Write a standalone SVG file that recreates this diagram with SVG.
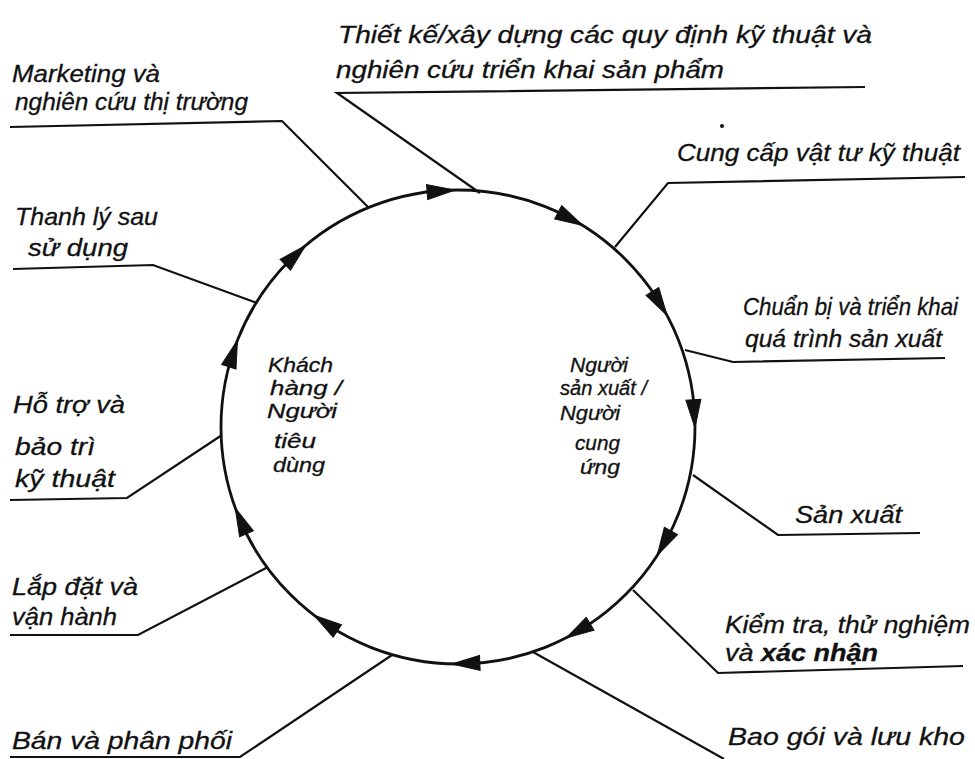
<svg xmlns="http://www.w3.org/2000/svg" xmlns:xlink="http://www.w3.org/1999/xlink" width="975" height="759" viewBox="0 0 975 759">
<style>
.lbl{font-family:"Liberation Sans","DejaVu Sans",sans-serif;font-style:italic;font-size:24px;fill:#111;stroke:#111;stroke-width:0.3}
.in{font-family:"Liberation Sans","DejaVu Sans",sans-serif;font-style:italic;font-size:20px;fill:#111;stroke:#111;stroke-width:0.3}
.ld{fill:none;stroke:#111;stroke-width:2.2;stroke-linejoin:miter}
.ring{fill:none;stroke:#111;stroke-width:2.8}
.ah{fill:#111;stroke:#111;stroke-width:1}
</style>
<defs>
<polygon id="ah" class="ah" points="695,427 685.8,399.5 700.8,398.5"/>
</defs>
<rect width="975" height="759" fill="#fff"/>

<g id="cycle">
<circle class="ring" cx="458" cy="427" r="237"/>
<use xlink:href="#ah" href="#ah" transform="rotate(-90.7 458 427)"/>
<use xlink:href="#ah" href="#ah" transform="rotate(-58.2 458 427)"/>
<use xlink:href="#ah" href="#ah" transform="rotate(-28.1 458 427)"/>
<use xlink:href="#ah" href="#ah" transform="rotate(0.2 458 427)"/>
<use xlink:href="#ah" href="#ah" transform="rotate(32.8 458 427)"/>
<use xlink:href="#ah" href="#ah" transform="rotate(62.9 458 427)"/>
<use xlink:href="#ah" href="#ah" transform="rotate(91.5 458 427)"/>
<use xlink:href="#ah" href="#ah" transform="rotate(127.4 458 427)"/>
<use xlink:href="#ah" href="#ah" transform="rotate(160 458 427)"/>
<use xlink:href="#ah" href="#ah" transform="rotate(201.5 458 427)"/>
<use xlink:href="#ah" href="#ah" transform="rotate(230 458 427)"/>
</g>

<g id="connectors">
<polyline class="ld" points="480,193 337,93 865,87"/>
<polyline class="ld" points="369,208 282,121 10,127"/>
<polyline class="ld" points="615,247 668,183 965,177"/>
<polyline class="ld" points="685,350 733,362 945,358"/>
<polyline class="ld" points="693,475 778,535 920,533"/>
<polyline class="ld" points="633,590 718,673 963,666"/>
<polyline class="ld" points="533,652 724,759"/>
<polyline class="ld" points="392,655 240,757 10,757"/>
<polyline class="ld" points="268,567 138,635 10,635"/>
<polyline class="ld" points="222,435 127,498 10,500"/>
<polyline class="ld" points="257,303 153,265 13,269"/>
</g>

<g id="n-thietke">
<text class="lbl" x="338" y="43" textLength="534" lengthAdjust="spacingAndGlyphs">Thiết kế/xây dựng các quy định kỹ thuật và</text>
<text class="lbl" x="336" y="78" textLength="388" lengthAdjust="spacingAndGlyphs">nghiên cứu triển khai sản phẩm</text>
</g>
<g id="n-marketing">
<text class="lbl" x="12" y="82" textLength="148" lengthAdjust="spacingAndGlyphs">Marketing và</text>
<text class="lbl" x="15" y="110" textLength="233" lengthAdjust="spacingAndGlyphs">nghiên cứu thị trường</text>
</g>
<g id="n-cungcap">
<text class="lbl" x="677" y="161" textLength="283" lengthAdjust="spacingAndGlyphs">Cung cấp vật tư kỹ thuật</text>
</g>
<g id="n-chuanbi">
<text class="lbl" x="743" y="315" textLength="215" lengthAdjust="spacingAndGlyphs">Chuẩn bị và triển khai</text>
<text class="lbl" x="745" y="347" textLength="197" lengthAdjust="spacingAndGlyphs">quá trình sản xuất</text>
</g>
<g id="n-sanxuat">
<text class="lbl" x="795" y="523" textLength="107" lengthAdjust="spacingAndGlyphs">Sản xuất</text>
</g>
<g id="n-kiemtra">
<text class="lbl" x="725" y="633" textLength="245" lengthAdjust="spacingAndGlyphs">Kiểm tra, thử nghiệm</text>
<text class="lbl" x="725" y="661" textLength="153" lengthAdjust="spacingAndGlyphs">và <tspan font-weight="bold">xác nhận</tspan></text>
</g>
<g id="n-baogoi">
<text class="lbl" x="728" y="745" textLength="237" lengthAdjust="spacingAndGlyphs">Bao gói và lưu kho</text>
</g>
<g id="n-ban">
<text class="lbl" x="12" y="749" textLength="220" lengthAdjust="spacingAndGlyphs">Bán và phân phối</text>
</g>
<g id="n-lapdat">
<text class="lbl" x="12" y="595" textLength="126" lengthAdjust="spacingAndGlyphs">Lắp đặt và</text>
<text class="lbl" x="12" y="625" textLength="105" lengthAdjust="spacingAndGlyphs">vận hành</text>
</g>
<g id="n-hotro">
<text class="lbl" x="13" y="413" textLength="112" lengthAdjust="spacingAndGlyphs">Hỗ trợ và</text>
<text class="lbl" x="15" y="455" textLength="80" lengthAdjust="spacingAndGlyphs">bảo trì</text>
<text class="lbl" x="15" y="487" textLength="100" lengthAdjust="spacingAndGlyphs">kỹ thuật</text>
</g>
<g id="n-thanhly">
<text class="lbl" x="15" y="225" textLength="143" lengthAdjust="spacingAndGlyphs">Thanh lý sau</text>
<text class="lbl" x="28" y="256" textLength="100" lengthAdjust="spacingAndGlyphs">sử dụng</text>
</g>
<g id="n-khachhang">
<text class="in" x="268" y="372" textLength="65" lengthAdjust="spacingAndGlyphs">Khách</text>
<text class="in" x="270" y="395" textLength="72" lengthAdjust="spacingAndGlyphs">hàng /</text>
<text class="in" x="267" y="418" textLength="70" lengthAdjust="spacingAndGlyphs">Người</text>
<text class="in" x="274" y="448" textLength="42" lengthAdjust="spacingAndGlyphs">tiêu</text>
<text class="in" x="273" y="472" textLength="52" lengthAdjust="spacingAndGlyphs">dùng</text>
</g>
<g id="n-nguoisanxuat">
<text class="in" x="570" y="372" textLength="58" lengthAdjust="spacingAndGlyphs">Người</text>
<text class="in" x="560" y="395" font-size="17" textLength="87" lengthAdjust="spacingAndGlyphs">sản xuất /</text>
<text class="in" x="560" y="420" textLength="60" lengthAdjust="spacingAndGlyphs">Người</text>
<text class="in" x="575" y="450" textLength="45" lengthAdjust="spacingAndGlyphs">cung</text>
<text class="in" x="580" y="474" textLength="40" lengthAdjust="spacingAndGlyphs">ứng</text>
</g>
<circle cx="722" cy="126" r="2" fill="#111"/>
</svg>
